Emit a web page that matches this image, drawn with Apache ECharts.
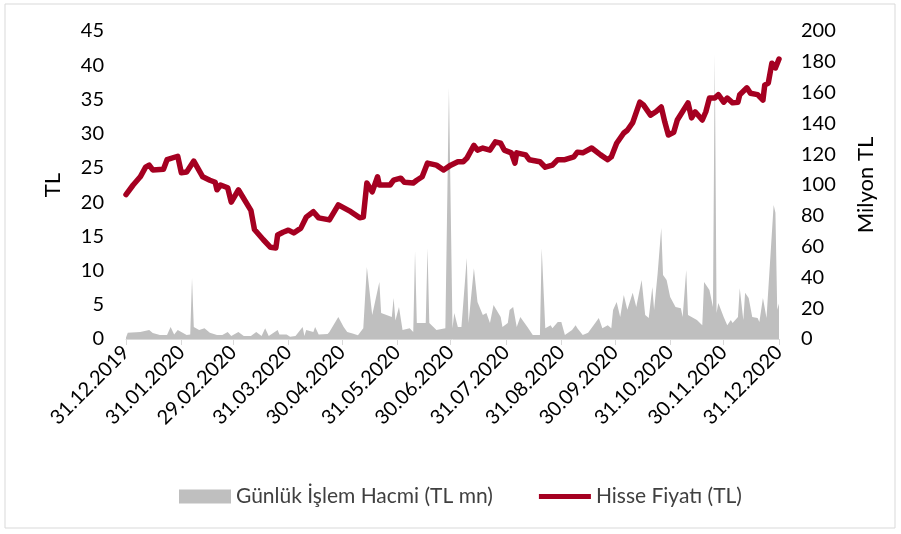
<!DOCTYPE html>
<html>
<head>
<meta charset="utf-8">
<script src="https://cdn.jsdelivr.net/npm/echarts@6/dist/echarts.min.js"></script>
<style>
    html, body { margin: 0; padding: 0; background: #fff; }
    #main { width: 901px; height: 534px; }
</style>
</head>
<body>
<div id="main"></div>
<script type="text/javascript">
    // hisse fiyati (TL)
    var priceDates = [
        '2019-12-31','2020-01-04','2020-01-08','2020-01-11','2020-01-13','2020-01-15','2020-01-21','2020-01-23','2020-01-29','2020-01-31',
        '2020-02-03','2020-02-07','2020-02-12','2020-02-16','2020-02-19','2020-02-20','2020-02-22','2020-02-26','2020-02-28',
        '2020-03-03','2020-03-10','2020-03-12','2020-03-17','2020-03-21','2020-03-24','2020-03-25','2020-03-28','2020-03-31',
        '2020-04-03','2020-04-07','2020-04-10','2020-04-14','2020-04-17','2020-04-23','2020-04-28',
        '2020-05-05','2020-05-10','2020-05-12','2020-05-14','2020-05-17','2020-05-20','2020-05-21','2020-05-27','2020-05-29',
        '2020-06-02','2020-06-04','2020-06-09','2020-06-11','2020-06-14','2020-06-17','2020-06-22','2020-06-26','2020-06-30',
        '2020-07-04','2020-07-07','2020-07-09','2020-07-13','2020-07-15','2020-07-18','2020-07-22','2020-07-25','2020-07-28','2020-07-30',
        '2020-08-03','2020-08-05','2020-08-06','2020-08-11','2020-08-13','2020-08-19','2020-08-22','2020-08-26','2020-08-29',
        '2020-09-02','2020-09-07','2020-09-09','2020-09-12','2020-09-17','2020-09-22','2020-09-26','2020-09-28',
        '2020-10-01','2020-10-05','2020-10-07','2020-10-10','2020-10-11','2020-10-14','2020-10-16','2020-10-20','2020-10-23','2020-10-26','2020-10-28','2020-10-30',
        '2020-11-02','2020-11-04','2020-11-10','2020-11-12','2020-11-14','2020-11-18','2020-11-20','2020-11-22','2020-11-25','2020-11-27','2020-11-30',
        '2020-12-02','2020-12-05','2020-12-08','2020-12-09','2020-12-13','2020-12-15','2020-12-19','2020-12-22','2020-12-23','2020-12-25','2020-12-27','2020-12-29','2020-12-31'
    ];
    var priceValues = [
        21.1, 22.5, 23.7, 25.1, 25.4, 24.7, 24.8, 26.2, 26.7, 24.3,
        24.4, 26.0, 23.7, 23.2, 22.9, 21.8, 22.5, 22.1, 20.0,
        21.8, 18.8, 16.0, 14.5, 13.4, 13.3, 15.2, 15.6, 15.9,
        15.5, 16.2, 17.8, 18.6, 17.7, 17.4, 19.6,
        18.6, 17.7, 17.8, 22.8, 21.5, 23.7, 22.5, 22.5, 23.2,
        23.5, 22.9, 22.8, 23.2, 23.7, 25.7, 25.4, 24.7, 25.4,
        25.9, 25.9, 26.4, 28.3, 27.6, 27.9, 27.6, 28.8, 28.6, 27.6,
        27.2, 25.7, 27.2, 26.9, 26.2, 25.9, 25.1, 25.4, 26.2,
        26.2, 26.6, 27.3, 27.2, 27.9, 26.9, 26.2, 26.6,
        28.6, 30.1, 30.5, 31.6, 31.7, 34.6, 34.2, 32.7, 33.2, 33.9, 31.7, 29.8,
        30.2, 32.0, 34.5, 32.3, 33.2, 32.0, 33.2, 35.2, 35.2, 35.7, 34.6,
        35.2, 34.5, 34.6, 35.7, 36.7, 35.9, 35.7, 34.9, 37.1, 37.4, 40.3, 39.6, 40.9
    ];

    // gunluk islem hacmi (TL mn)
    var volumeDates = [
        '2019-12-31','2020-01-01','2020-01-08','2020-01-13','2020-01-15','2020-01-16','2020-01-19','2020-01-23','2020-01-25','2020-01-27','2020-01-29','2020-01-31',
        '2020-02-03','2020-02-05','2020-02-06','2020-02-07','2020-02-10','2020-02-13','2020-02-16','2020-02-20','2020-02-23','2020-02-26','2020-02-28',
        '2020-03-03','2020-03-06','2020-03-10','2020-03-13','2020-03-16','2020-03-18','2020-03-20','2020-03-25','2020-03-26','2020-03-30',
        '2020-04-01','2020-04-04','2020-04-08','2020-04-09','2020-04-10','2020-04-14','2020-04-15','2020-04-17','2020-04-22','2020-04-23','2020-04-28',
        '2020-05-01','2020-05-03','2020-05-06','2020-05-09','2020-05-12','2020-05-14','2020-05-17','2020-05-21','2020-05-22','2020-05-28','2020-05-29','2020-05-30',
        '2020-06-01','2020-06-03','2020-06-07','2020-06-09','2020-06-10','2020-06-11','2020-06-16','2020-06-17','2020-06-18','2020-06-22','2020-06-27','2020-06-29',
        '2020-07-01','2020-07-02','2020-07-04','2020-07-06','2020-07-09','2020-07-10','2020-07-13','2020-07-15','2020-07-18','2020-07-20','2020-07-22','2020-07-24','2020-07-28','2020-07-29',
        '2020-08-01','2020-08-02','2020-08-04','2020-08-06','2020-08-08','2020-08-12','2020-08-15','2020-08-19','2020-08-20','2020-08-22','2020-08-25','2020-08-26','2020-08-29','2020-08-31',
        '2020-09-02','2020-09-06','2020-09-08','2020-09-09','2020-09-12','2020-09-15','2020-09-19','2020-09-21','2020-09-23','2020-09-26','2020-09-27','2020-09-28','2020-09-29',
        '2020-10-01','2020-10-03','2020-10-05','2020-10-07','2020-10-10','2020-10-12','2020-10-15','2020-10-17','2020-10-19','2020-10-21','2020-10-22','2020-10-24','2020-10-26','2020-10-27','2020-10-29','2020-10-31',
        '2020-11-03','2020-11-06','2020-11-07','2020-11-09','2020-11-10','2020-11-12','2020-11-15','2020-11-18','2020-11-19','2020-11-22','2020-11-24','2020-11-25','2020-11-26','2020-11-27','2020-11-30',
        '2020-12-02','2020-12-04','2020-12-05','2020-12-08','2020-12-09','2020-12-11','2020-12-12','2020-12-14','2020-12-16','2020-12-19','2020-12-20','2020-12-22','2020-12-24','2020-12-25','2020-12-28','2020-12-29','2020-12-30','2020-12-31'
    ];
    var volumeValues = [
        1, 4, 4.5, 5.8, 3.9, 4.5, 2.6, 2.6, 7.8, 3, 5.8, 4.5,
        2.6, 3, 39.6, 7.8, 5.8, 7, 4, 2.6, 2.6, 4.5, 2,
        4.5, 2, 2, 4.5, 2, 7, 2, 5.8, 3, 3,
        1.5, 2, 7.8, 2, 5.8, 4.5, 7.8, 3, 3.2, 4.5, 14.3,
        7.8, 4.5, 3.5, 2.5, 7, 46.8, 15.6, 37, 16.9, 14.3, 26.6, 12,
        20.8, 5.8, 7, 4.5, 57, 10.4, 10.4, 59, 10.4, 5.8, 7, 163,
        7, 16.9, 7.8, 7.8, 52.6, 10.4, 46, 24, 15.6, 16.9, 10.4, 22, 14.3, 7.8,
        10.4, 18.8, 20.8, 7.8, 14.3, 7.8, 2.6, 2.6, 59, 7, 9, 7, 11, 11,
        2.6, 5.8, 9, 7, 2.6, 4, 10.4, 13.6, 7, 9, 8, 7, 18.8,
        24, 14.3, 28.6, 19, 30, 20.8, 38.3, 15.6, 13.6, 33.8, 18.8, 42.9, 72, 41.6, 38.3, 27.3,
        20.8, 20, 14.3, 44.8, 15.6, 14.3, 12.3, 9, 37, 31.8, 20.8, 185, 16.9, 23.4, 14.3,
        9, 12.3, 10.4, 14.3, 33, 12.3, 30, 26.6, 14.3, 13.6, 11, 26.6, 13.6, 13.6, 87, 82, 19, 23
    ];

    // x ekseni: 31.12.2019 - 31.12.2020 arasi tum gunler
    var days = [];
    var d = new Date(Date.UTC(2019, 11, 31));
    var end = new Date(Date.UTC(2020, 11, 31));
    while (d <= end) {
        days.push(d.toISOString().slice(0, 10));
        d = new Date(d.getTime() + 86400000);
    }

    function isMonthEnd(index) {
        var cur = days[index];
        var next = new Date(Date.parse(cur) + 86400000).toISOString().slice(0, 10);
        return cur.slice(5, 7) !== next.slice(5, 7);
    }

    var font = 'Lato';
    var myChart = echarts.init(document.getElementById('main'));

    var option = {
        backgroundColor: '#fff',
        textStyle: { fontFamily: font },
        animation: false,
        graphic: [{
            type: 'rect',
            shape: { x: 5, y: 4, width: 890, height: 524 },
            style: { fill: 'none', stroke: '#d9d9d9', lineWidth: 1 }
        }],
        grid: { left: 126, right: 122, top: 31, bottom: 195 },
        legend: {
            top: 481,
            left: 174,
            itemWidth: 52,
            itemHeight: 14,
            itemGap: 46,
            textStyle: { fontFamily: font, fontSize: 21, color: '#404040' },
            data: [
                { name: 'Günlük İşlem Hacmi (TL mn)', icon: 'rect' },
                { name: 'Hisse Fiyatı (TL)', icon: 'path://M0,0 L52,0 L52,5 L0,5 Z' }
            ]
        },
        xAxis: {
            type: 'category',
            data: days,
            boundaryGap: false,
            axisLine: { lineStyle: { color: '#d9d9d9', width: 1 } },
            axisTick: {
                interval: function (index) { return isMonthEnd(index); },
                length: 6,
                lineStyle: { color: '#d9d9d9' }
            },
            axisLabel: {
                interval: function (index) { return isMonthEnd(index); },
                rotate: 45,
                margin: 10,
                fontSize: 20,
                color: '#000',
                fontFamily: font,
                formatter: function (v) { return v.split('-').reverse().join('.'); }
            },
            splitLine: { show: false }
        },
        yAxis: [{
            type: 'value',
            min: 0, max: 45, interval: 5,
            name: 'TL',
            nameLocation: 'middle',
            nameGap: 62,
            nameRotate: 90,
            nameTextStyle: { fontSize: 22, color: '#000', fontFamily: font },
            axisLine: { show: false },
            axisTick: { show: false },
            splitLine: { show: false },
            axisLabel: { fontSize: 20, color: '#000', margin: 22, fontFamily: font }
        }, {
            type: 'value',
            min: 0, max: 200, interval: 20,
            name: 'Milyon TL',
            nameLocation: 'middle',
            nameGap: 76,
            nameRotate: 90,
            nameTextStyle: { fontSize: 22, color: '#000', fontFamily: font },
            axisLine: { show: false },
            axisTick: { show: false },
            splitLine: { show: false },
            axisLabel: { fontSize: 20, color: '#000', margin: 22, fontFamily: font }
        }],
        series: [{
            name: 'Günlük İşlem Hacmi (TL mn)',
            type: 'line',
            yAxisIndex: 1,
            symbol: 'none',
            z: 1,
            itemStyle: { color: '#bfbfbf' },
            lineStyle: { width: 0, color: '#bfbfbf' },
            areaStyle: { color: '#bfbfbf', opacity: 1 },
            data: volumeDates.map(function (x, i) { return [x, volumeValues[i]]; })
        }, {
            name: 'Hisse Fiyatı (TL)',
            type: 'line',
            yAxisIndex: 0,
            symbol: 'none',
            z: 3,
            itemStyle: { color: '#a50021' },
            lineStyle: { width: 5.5, color: '#a50021', join: 'round', cap: 'round' },
            data: priceDates.map(function (x, i) { return [x, priceValues[i]]; })
        }]
    };

    myChart.setOption(option);
</script>
</body>
</html>
